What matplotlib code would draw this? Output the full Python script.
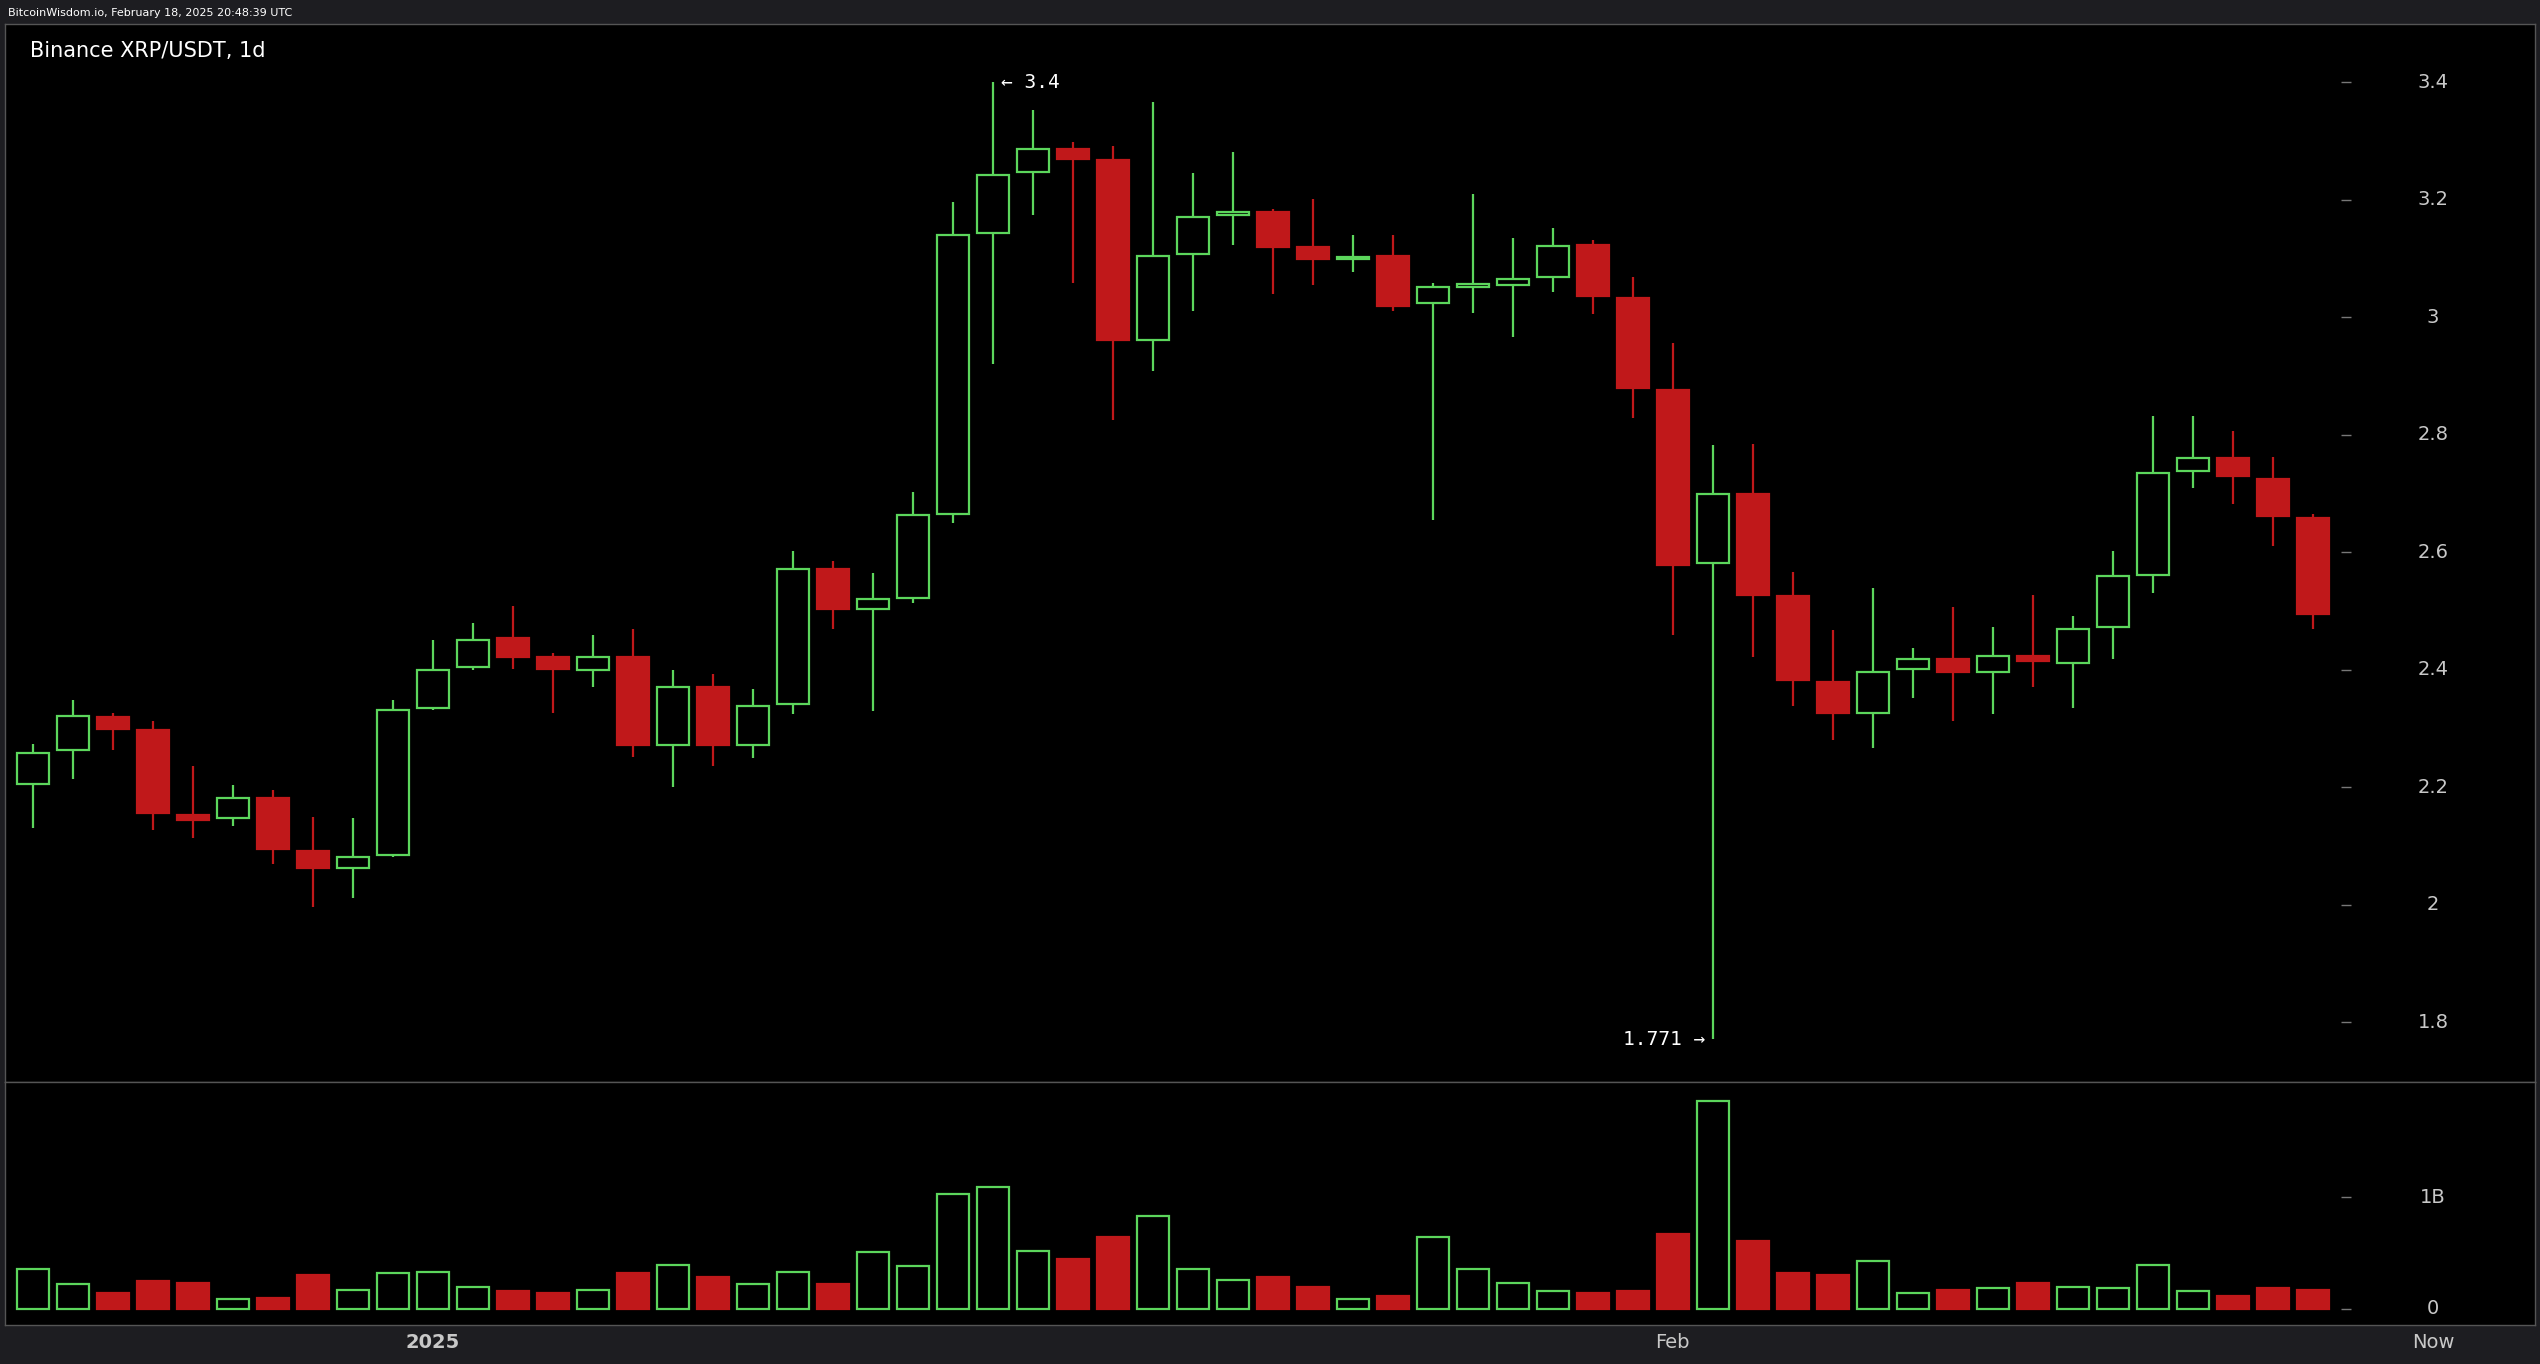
import matplotlib.pyplot as plt
import numpy as np

# daily candles, Dec 22 2024 .. Feb 17 2025
opens = [2.206, 2.263, 2.319, 2.297, 2.153, 2.148, 2.181, 2.092, 2.062, 2.084,
         2.335, 2.404, 2.454, 2.421, 2.399, 2.421, 2.272, 2.371, 2.272, 2.341,
         2.572, 2.503, 2.523, 2.666, 3.143, 3.248, 3.287, 3.268, 2.961, 3.108,
         3.174, 3.179, 3.119, 3.099, 3.105, 3.025, 3.052, 3.055, 3.069, 3.124,
         3.033, 2.876, 2.581, 2.699, 2.525, 2.379, 2.327, 2.401, 2.418, 2.396,
         2.423, 2.412, 2.473, 2.561, 2.738, 2.760, 2.724, 2.658]
closes = [2.258, 2.321, 2.299, 2.156, 2.145, 2.181, 2.095, 2.062, 2.081, 2.332,
          2.399, 2.451, 2.421, 2.401, 2.421, 2.272, 2.371, 2.272, 2.338, 2.572,
          2.503, 2.520, 2.663, 3.141, 3.243, 3.287, 3.270, 2.961, 3.105, 3.171,
          3.179, 3.119, 3.099, 3.102, 3.019, 3.052, 3.055, 3.066, 3.122, 3.036,
          2.879, 2.578, 2.699, 2.528, 2.382, 2.327, 2.396, 2.418, 2.396, 2.423,
          2.415, 2.470, 2.559, 2.735, 2.760, 2.730, 2.661, 2.495]
highs = [2.274, 2.349, 2.327, 2.313, 2.236, 2.203, 2.195, 2.150, 2.148, 2.349,
         2.451, 2.479, 2.509, 2.429, 2.459, 2.470, 2.399, 2.393, 2.368, 2.603,
         2.586, 2.564, 2.702, 3.196, 3.400, 3.353, 3.298, 3.292, 3.367, 3.246,
         3.281, 3.185, 3.201, 3.141, 3.141, 3.058, 3.210, 3.135, 3.152, 3.132,
         3.069, 2.956, 2.782, 2.785, 2.567, 2.468, 2.539, 2.437, 2.506, 2.473,
         2.528, 2.492, 2.603, 2.832, 2.832, 2.807, 2.763, 2.666]
lows = [2.131, 2.214, 2.263, 2.128, 2.114, 2.134, 2.070, 1.996, 2.012, 2.081,
        2.332, 2.399, 2.401, 2.327, 2.371, 2.252, 2.200, 2.236, 2.250, 2.324,
        2.470, 2.330, 2.514, 2.650, 2.920, 3.174, 3.058, 2.826, 2.909, 3.011,
        3.124, 3.039, 3.055, 3.077, 3.011, 2.655, 3.008, 2.967, 3.044, 3.005,
        2.829, 2.459, 1.771, 2.421, 2.338, 2.280, 2.266, 2.352, 2.313, 2.324,
        2.371, 2.335, 2.418, 2.531, 2.710, 2.683, 2.611, 2.470]
volumes_b = [0.36, 0.22, 0.145, 0.25, 0.23, 0.087, 0.10, 0.30, 0.17, 0.32,
             0.33, 0.20, 0.16, 0.145, 0.17, 0.32, 0.39, 0.29, 0.22, 0.33,
             0.22, 0.51, 0.38, 1.03, 1.09, 0.52, 0.45, 0.64, 0.83, 0.36,
             0.26, 0.29, 0.20, 0.087, 0.116, 0.64, 0.36, 0.23, 0.16, 0.145,
             0.16, 0.67, 1.86, 0.61, 0.32, 0.30, 0.43, 0.145, 0.17, 0.19,
             0.23, 0.20, 0.19, 0.39, 0.16, 0.116, 0.19, 0.17]
price_ticks = [1.8, 2.0, 2.2, 2.4, 2.6, 2.8, 3.0, 3.2, 3.4]
price_labels = ["1.8", "2", "2.2", "2.4", "2.6", "2.8", "3", "3.2", "3.4"]
x_tick_pos = [10, 41, 60]
x_tick_labels = ["2025", "Feb", "Now"]

GREEN = "#5cd65c"
RED = "#c0181a"
TXT = "#c8c8c8"

fig = plt.figure(figsize=(25.4, 13.64), dpi=100, facecolor="#1d1d21")
ax = fig.add_axes([0.002, 0.2067, 0.996, 0.7755], facecolor="black")
axv = fig.add_axes([0.002, 0.0285, 0.996, 0.1782], facecolor="black", sharex=ax)

x = np.arange(len(opens))
o = np.array(opens); c = np.array(closes)
up = c >= o
cols = np.where(up, GREEN, RED)

ax.vlines(x, lows, highs, colors=cols, lw=1.6, zorder=1)
body = np.where(np.abs(c - o) < 0.004, 0.004, c - o)
ax.bar(x, body, bottom=o, width=0.8, color=np.where(up, "black", RED),
       edgecolor=cols, lw=1.6, zorder=2)

axv.bar(x, volumes_b, width=0.8, color=np.where(up, "black", RED),
        edgecolor=cols, lw=1.6)

ax.set_xlim(-0.69, 62.55)
ax.set_ylim(1.698, 3.499)
axv.set_ylim(-0.145, 2.03)

for a in (ax, axv):
    a.set_xticks([]); a.set_yticks([])
    for s in a.spines.values():
        s.set_color("#555555"); s.set_linewidth(1)

for t, lab in zip(price_ticks, price_labels):
    ax.hlines(t, 57.7, 57.95, color="#777777", lw=1)
    ax.text(60.0, t, lab, color=TXT, fontsize=14, ha="center", va="center")
for t, lab in zip([0, 1], ["0", "1B"]):
    axv.hlines(t, 57.7, 57.95, color="#777777", lw=1)
    axv.text(60.0, t, lab, color=TXT, fontsize=14, ha="center", va="center")

for p, lab in zip(x_tick_pos, x_tick_labels):
    axv.text(p, -0.3, lab, color=TXT, fontsize=14, ha="center", va="center",
             fontweight="bold" if lab == "2025" else "normal", clip_on=False)

ax.text(24.2, highs[24], "\u2190 3.4", color="white", fontsize=14,
        family="DejaVu Sans Mono", ha="left", va="center")
ax.text(41.8, lows[42], "1.771 \u2192", color="white", fontsize=14,
        family="DejaVu Sans Mono", ha="right", va="center")

ax.text(0.01, 0.984, "Binance XRP/USDT, 1d", transform=ax.transAxes,
        color="white", fontsize=15, ha="left", va="top")
fig.text(0.003, 0.9905, "BitcoinWisdom.io, February 18, 2025 20:48:39 UTC",
         color="white", fontsize=8, ha="left", va="center")

fig.savefig("out.png", dpi=100, facecolor=fig.get_facecolor())
